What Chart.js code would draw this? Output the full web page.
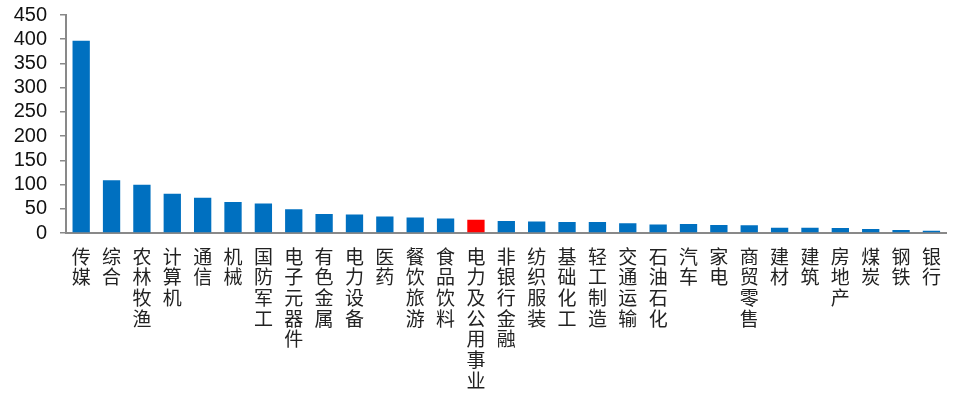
<!DOCTYPE html>
<html>
<head>
<meta charset="utf-8">
<script src="https://cdn.jsdelivr.net/npm/chart.js@4/dist/chart.umd.min.js"></script>
<style>
  html, body { margin: 0; padding: 0; background: #fff; }
  #wrap { width: 954px; height: 398px; }
</style>
</head>
<body>
<div id="wrap"><canvas id="bars"></canvas></div>
<script>
const categories = [
    "传媒", "综合", "农林牧渔", "计算机", "通信", "机械", "国防军工", "电子元器件",
    "有色金属", "电力设备", "医药", "餐饮旅游", "食品饮料", "电力及公用事业", "非银行金融",
    "纺织服装", "基础化工", "轻工制造", "交通运输", "石油石化", "汽车", "家电",
    "商贸零售", "建材", "建筑", "房地产", "煤炭", "钢铁", "银行"
];
const values = [
    397, 109, 99.5, 81, 73, 64, 61, 49,
    39, 38, 34, 32, 30, 27.6, 25,
    23.5, 22.8, 22.8, 20, 17.8, 18.7, 16.6,
    15.8, 11, 11, 10.4, 8.3, 6.2, 4.8
];
const highlight = "电力及公用事业";
const yTicks = [0, 50, 100, 150, 200, 250, 300, 350, 400, 450];

const blue = "#0070C0";
const red = "#FF0000";
const axisGray = "#898989";

// each label is drawn top-to-bottom, one character per line
const verticalLabels = categories.map(c => Array.from(c));
const barColors = categories.map(c => c === highlight ? red : blue);

new Chart(document.getElementById("bars"), {
    type: "bar",
    data: {
        labels: verticalLabels,
        datasets: [{
            data: values,
            backgroundColor: barColors,
            borderWidth: 0,
            barPercentage: 0.57,
            categoryPercentage: 1.0
        }]
    },
    options: {
        responsive: true,
        maintainAspectRatio: false,
        animation: false,
        layout: { padding: { top: 15, right: 4, bottom: 0, left: 0 } },
        plugins: {
            legend: { display: false },
            tooltip: { enabled: false }
        },
        scales: {
            x: {
                afterFit: s => { s.height = 165; s.paddingTop = 0; },
                grid: { display: false, drawTicks: false },
                border: { display: true, color: axisGray, width: 2 },
                ticks: {
                    autoSkip: false,
                    maxRotation: 0,
                    minRotation: 0,
                    padding: 13,
                    color: "#222",
                    font: { family: "'Noto Sans CJK SC', sans-serif", size: 19, lineHeight: 1.09 }
                }
            },
            y: {
                min: 0,
                max: 450,
                afterBuildTicks: axis => { axis.ticks = yTicks.map(v => ({ value: v })); },
                afterFit: s => { s.width = 66; s.paddingTop = 0; },
                grid: {
                    drawOnChartArea: false,
                    drawTicks: true,
                    tickLength: 6,
                    color: axisGray,
                    lineWidth: 1.5
                },
                border: { display: true, color: axisGray, width: 2 },
                ticks: {
                    autoSkip: false,
                    padding: 13,
                    color: "#111",
                    font: { family: "'Liberation Sans', Arial, sans-serif", size: 20 }
                }
            }
        }
    }
});
</script>
</body>
</html>
